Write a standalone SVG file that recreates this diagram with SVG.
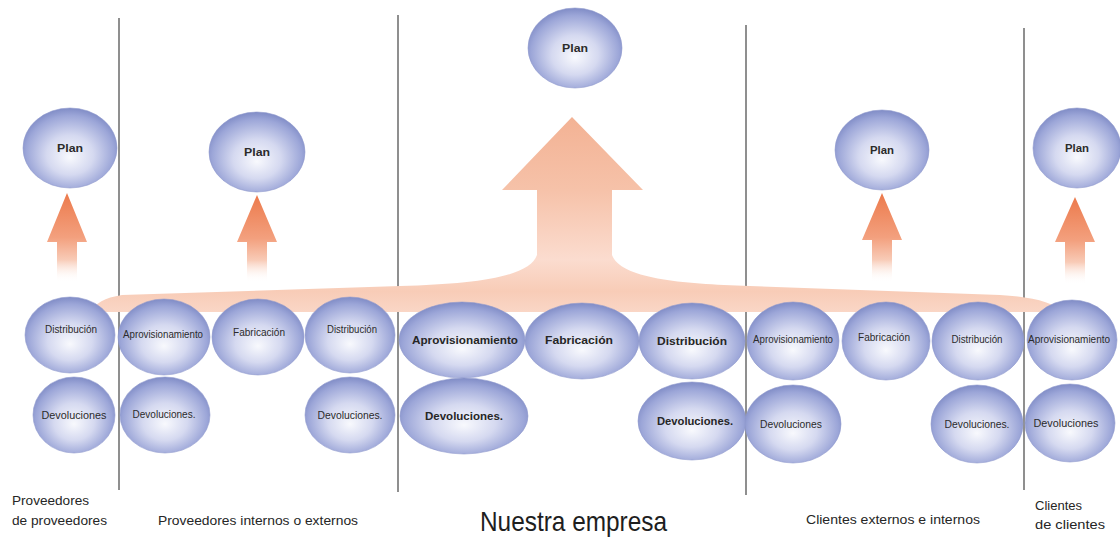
<svg xmlns="http://www.w3.org/2000/svg" width="1120" height="544" viewBox="0 0 1120 544">
<defs>
<radialGradient id="ng" cx="0.5" cy="0.55" r="0.55" fx="0.5" fy="0.62">
<stop offset="0" stop-color="#f8f9fd"/>
<stop offset="0.45" stop-color="#d5d9f0"/>
<stop offset="0.85" stop-color="#9ca6d8"/>
<stop offset="1" stop-color="#808cc6"/>
</radialGradient>
<linearGradient id="sa" x1="0" y1="0" x2="0" y2="1">
<stop offset="0" stop-color="#ec7a4c"/>
<stop offset="0.5" stop-color="#f3a07e"/>
<stop offset="0.75" stop-color="#f8cbb7"/>
<stop offset="1" stop-color="#ffffff" stop-opacity="0"/>
</linearGradient>
<linearGradient id="bg" gradientUnits="userSpaceOnUse" x1="0" y1="117" x2="0" y2="315">
<stop offset="0" stop-color="#f3b294"/>
<stop offset="0.37" stop-color="#f6c2a9"/>
<stop offset="0.72" stop-color="#fbdccf"/>
<stop offset="0.88" stop-color="#f8ccb7"/>
<stop offset="1" stop-color="#fad8c8"/>
</linearGradient>
</defs>
<style>
.n{fill:url(#ng);stroke:#8e98cd;stroke-width:0.6}
.t{font-family:"Liberation Sans",Arial,sans-serif;font-size:10px;fill:#2b2b2b;text-anchor:middle}
.b{font-weight:bold;font-size:11px;fill:#262626}
.p{font-weight:bold;font-size:10px}
.sa{fill:url(#sa)}
.dv{stroke:#6a6a6a;stroke-width:1.5;fill:none}
.lb{font-family:"Liberation Sans",Arial,sans-serif;font-size:13px;fill:#262626}
</style>
<rect width="1120" height="544" fill="#ffffff"/>

<g id="dividers">
<line class="dv" x1="119" y1="18" x2="119" y2="490"/>
<line class="dv" x1="398" y1="15" x2="398" y2="492"/>
<line class="dv" x1="746" y1="25" x2="746" y2="495"/>
<line class="dv" x1="1024" y1="28" x2="1024" y2="490"/>
</g>

<g id="connectors">
<path fill="url(#bg)" d="M92 312 Q96 299 122 295 L400 286 C480 284 530 276 537 255 L537 190 L502 190 L572 117 L643 190 L612 190 L612 255 C620 278 680 284 750 286 L1000 295 Q1050 298 1062 312 Z"/>
<path class="sa" d="M67 193 L87 242 L77 242 L77 282 L57 282 L57 242 L47 242 Z"/>
<path class="sa" d="M257 195 L277 242 L267 242 L267 282 L247 282 L247 242 L237 242 Z"/>
<path class="sa" d="M882 193 L902 240 L892 240 L892 282 L872 282 L872 240 L862 240 Z"/>
<path class="sa" d="M1075 197 L1095 242 L1085 242 L1085 284 L1065 284 L1065 242 L1055 242 Z"/>
</g>

<g id="plan1"><ellipse class="n" cx="70" cy="148" rx="47" ry="40"/><text class="t p" x="70" y="152" textLength="26" lengthAdjust="spacingAndGlyphs">Plan</text></g>
<g id="plan2"><ellipse class="n" cx="257" cy="152" rx="48" ry="40"/><text class="t p" x="257" y="156" textLength="26" lengthAdjust="spacingAndGlyphs">Plan</text></g>
<g id="plan3"><ellipse class="n" cx="575" cy="48" rx="47" ry="40"/><text class="t p" x="575" y="52" textLength="26" lengthAdjust="spacingAndGlyphs">Plan</text></g>
<g id="plan4"><ellipse class="n" cx="882" cy="150" rx="47" ry="40"/><text class="t p" x="882" y="154" textLength="24" lengthAdjust="spacingAndGlyphs">Plan</text></g>
<g id="plan5"><ellipse class="n" cx="1077" cy="148" rx="44" ry="40"/><text class="t p" x="1077" y="152" textLength="24" lengthAdjust="spacingAndGlyphs">Plan</text></g>

<g id="s1-dist"><ellipse class="n" cx="70" cy="335" rx="45" ry="38"/><text class="t" x="71" y="333" textLength="52" lengthAdjust="spacingAndGlyphs">Distribución</text></g>
<g id="s1-dev"><ellipse class="n" cx="74" cy="415" rx="41" ry="38"/><text class="t" x="74" y="419" textLength="65" lengthAdjust="spacingAndGlyphs">Devoluciones</text></g>

<g id="s2-aprov"><ellipse class="n" cx="164" cy="337" rx="46" ry="38"/><text class="t" x="163" y="338" textLength="80" lengthAdjust="spacingAndGlyphs">Aprovisionamiento</text></g>
<g id="s2-fab"><ellipse class="n" cx="258" cy="337" rx="46" ry="38"/><text class="t" x="259" y="336" textLength="52" lengthAdjust="spacingAndGlyphs">Fabricación</text></g>
<g id="s2-dist"><ellipse class="n" cx="350" cy="335" rx="45" ry="38"/><text class="t" x="352" y="333" textLength="50" lengthAdjust="spacingAndGlyphs">Distribución</text></g>
<g id="s2-dev1"><ellipse class="n" cx="165" cy="415" rx="45" ry="38"/><text class="t" x="164" y="418" textLength="63" lengthAdjust="spacingAndGlyphs">Devoluciones.</text></g>
<g id="s2-dev2"><ellipse class="n" cx="350" cy="415" rx="45" ry="38"/><text class="t" x="350" y="419" textLength="65" lengthAdjust="spacingAndGlyphs">Devoluciones.</text></g>

<g id="s3-aprov"><ellipse class="n" cx="462" cy="340" rx="63" ry="38"/><text class="t b" x="465" y="344" textLength="106" lengthAdjust="spacingAndGlyphs">Aprovisionamiento</text></g>
<g id="s3-fab"><ellipse class="n" cx="582" cy="341" rx="57" ry="38"/><text class="t b" x="579" y="344" textLength="68" lengthAdjust="spacingAndGlyphs">Fabricación</text></g>
<g id="s3-dist"><ellipse class="n" cx="692" cy="341" rx="53" ry="38"/><text class="t b" x="692" y="345" textLength="70" lengthAdjust="spacingAndGlyphs">Distribución</text></g>
<g id="s3-dev1"><ellipse class="n" cx="464" cy="416" rx="64" ry="38"/><text class="t b" x="464" y="420" textLength="78" lengthAdjust="spacingAndGlyphs">Devoluciones.</text></g>
<g id="s3-dev2"><ellipse class="n" cx="692" cy="421" rx="54" ry="39"/><text class="t b" x="695" y="425" textLength="76" lengthAdjust="spacingAndGlyphs">Devoluciones.</text></g>

<g id="s4-aprov"><ellipse class="n" cx="793" cy="341" rx="46" ry="39"/><text class="t" x="793" y="343" textLength="80" lengthAdjust="spacingAndGlyphs">Aprovisionamiento</text></g>
<g id="s4-fab"><ellipse class="n" cx="886" cy="341" rx="44" ry="39"/><text class="t" x="884" y="341" textLength="52" lengthAdjust="spacingAndGlyphs">Fabricación</text></g>
<g id="s4-dist"><ellipse class="n" cx="978" cy="341" rx="46" ry="39"/><text class="t" x="977" y="343" textLength="51" lengthAdjust="spacingAndGlyphs">Distribución</text></g>
<g id="s4-dev1"><ellipse class="n" cx="793" cy="424" rx="48" ry="39"/><text class="t" x="791" y="428" textLength="62" lengthAdjust="spacingAndGlyphs">Devoluciones</text></g>
<g id="s4-dev2"><ellipse class="n" cx="977" cy="424" rx="46" ry="39"/><text class="t" x="977" y="428" textLength="65" lengthAdjust="spacingAndGlyphs">Devoluciones.</text></g>

<g id="s5-aprov"><ellipse class="n" cx="1072" cy="340" rx="45" ry="40"/><text class="t" x="1069" y="343" textLength="82" lengthAdjust="spacingAndGlyphs">Aprovisionamiento</text></g>
<g id="s5-dev"><ellipse class="n" cx="1070" cy="423" rx="45" ry="39"/><text class="t" x="1066" y="427" textLength="65" lengthAdjust="spacingAndGlyphs">Devoluciones</text></g>

<g id="labels">
<text class="lb" x="12" y="505" textLength="77" lengthAdjust="spacingAndGlyphs">Proveedores</text>
<text class="lb" x="12" y="525" textLength="95" lengthAdjust="spacingAndGlyphs">de proveedores</text>
<text class="lb" x="158" y="525" textLength="200" lengthAdjust="spacingAndGlyphs">Proveedores internos o externos</text>
<text x="480" y="531" font-family="Liberation Sans, Arial, sans-serif" font-size="28" fill="#1e1e1e" textLength="187" lengthAdjust="spacingAndGlyphs">Nuestra empresa</text>
<text class="lb" x="806" y="524" textLength="174" lengthAdjust="spacingAndGlyphs">Clientes externos e internos</text>
<text class="lb" x="1035" y="510" textLength="47" lengthAdjust="spacingAndGlyphs">Clientes</text>
<text class="lb" x="1035" y="529" textLength="70" lengthAdjust="spacingAndGlyphs">de clientes</text>
</g>
</svg>
